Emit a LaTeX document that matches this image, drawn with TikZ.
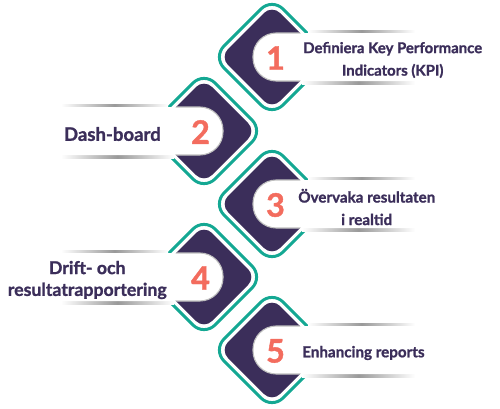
\documentclass[tikz,border=0pt]{standalone}
\usepackage{fontspec}
\setmainfont{Lato}[BoldFeatures={FakeBold=1.2}]
\usetikzlibrary{positioning}
\definecolor{kpipurple}{HTML}{3B2E5A}
\definecolor{kpiteal}{HTML}{14A893}
\definecolor{kpisalmon}{HTML}{F36C5E}

\begin{document}
\begin{tikzpicture}[x=0.025cm, y=-0.025cm,
  tealframe/.style={draw=kpiteal, line width=2.1pt, rounded corners=11pt},
  purpletile/.style={fill=kpipurple, rounded corners=8pt},
  pill/.style={fill=white, rounded corners=16.5pt},
  glow/.style={left color=white, right color=white, middle color=black!40},
  stepnum/.style={font=\fontsize{23}{23}\selectfont\bfseries, text=kpisalmon, inner sep=0pt},
  steptext/.style={text=kpipurple, align=center, inner sep=0pt}]
  \useasboundingbox (0,0) rectangle (500,408);

  % five steps, right / left in turn
  \foreach \cx/\cy/\n/\s/\a/\tx/\fs/\bs/\txt in {
      272/57/1/1/west/31/10.6/16/{Definiera Key Performance\\Indicators (KPI)},
      204/131/2/-1/east/-43/13.2/17/{Dash-board},
      272/204/3/1/west/26/10.8/16/{Övervaka resultaten\\i realtid},
      204/277/4/-1/east/-37/12.6/15.5/{Drift- och\\resultatrapportering},
      272/350/5/1/west/30/10.8/13/{Enhancing reports}} {
    \draw[tealframe] (\cx,\cy-59) -- (\cx+59,\cy) -- (\cx,\cy+59) -- (\cx-59,\cy) -- cycle;
    \fill[purpletile] (\cx,\cy-52) -- (\cx+52,\cy) -- (\cx,\cy+52) -- (\cx-52,\cy) -- cycle;
    % soft shadow lines
    \shade[glow] (\cx+36*\s,\cy-27) rectangle (\cx+143*\s,\cy-24);
    \shade[glow] (\cx+30*\s,\cy+24) rectangle (\cx+143*\s,\cy+27);
    \fill[pill] (\cx-19*\s,\cy-24) rectangle (\cx+210*\s,\cy+24);
    \begin{scope}
      \clip[rounded corners=8pt] (\cx,\cy-52) -- (\cx+52,\cy) -- (\cx,\cy+52) -- (\cx-52,\cy) -- cycle;
      \draw[black!25, line width=0.8pt, rounded corners=16.5pt] (\cx-19*\s,\cy-24) rectangle (\cx+210*\s,\cy+24);
    \end{scope}
    \node[stepnum] (num\n) at (\cx+3.5*\s,\cy+1) {\n};
    \node[steptext, anchor=\a, font=\fontsize{\fs}{\bs}\selectfont\bfseries] (txt\n) at (\cx+\tx,\cy+3) {\txt};
  }
\end{tikzpicture}
\end{document}
